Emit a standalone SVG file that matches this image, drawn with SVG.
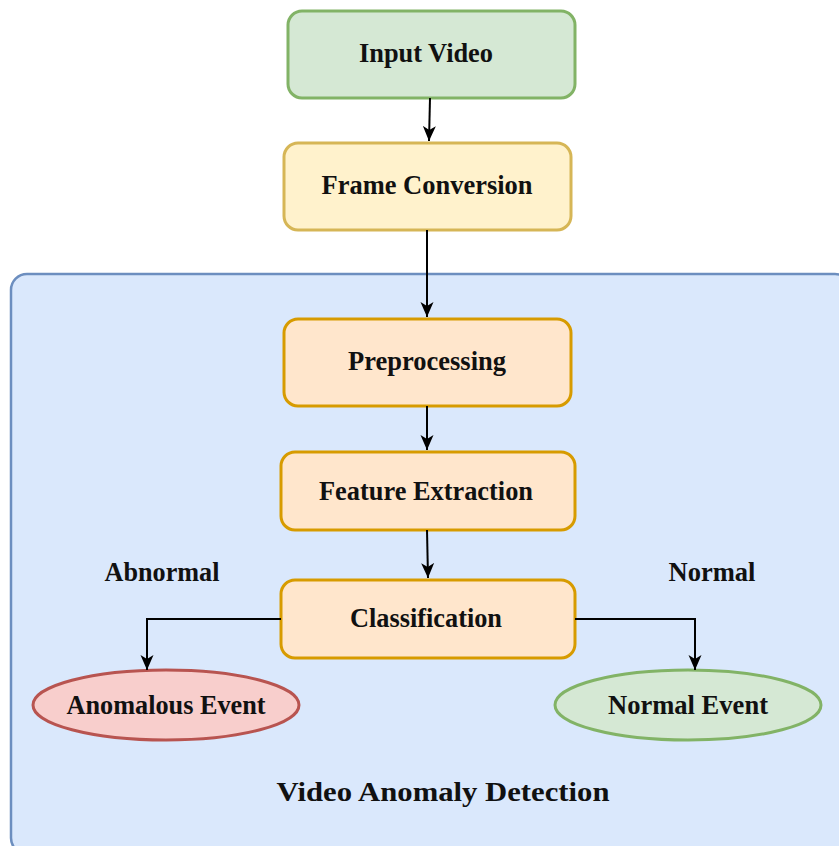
<svg xmlns="http://www.w3.org/2000/svg" width="839" height="846" viewBox="0 0 839 846">
<defs>
<marker id="ah" viewBox="0 0 16 16" refX="15" refY="8" markerWidth="16" markerHeight="16" markerUnits="userSpaceOnUse" orient="auto">
<path d="M0,1.5 L15,8 L0,14.5 L4,8 Z" fill="#000"/>
</marker>
<style>
text{font-family:"Liberation Serif","Times New Roman",serif;font-weight:bold;fill:#111;text-anchor:middle;font-size:28px}
.e{stroke:#000;stroke-width:2;fill:none;marker-end:url(#ah)}
.or{fill:#ffe6cc;stroke:#d79b00;stroke-width:3}
</style>
</defs>
<rect width="839" height="846" fill="#fff"/>
<g id="container">
<rect x="11" y="274" width="840" height="580" rx="16" fill="#dae8fc" stroke="#6c8ebf" stroke-width="2.5"/>
<text x="443" y="801" font-size="31" textLength="333" lengthAdjust="spacingAndGlyphs">Video Anomaly Detection</text>
</g>
<g id="input">
<rect x="288" y="11" width="287" height="87" rx="14" fill="#d5e8d4" stroke="#82b366" stroke-width="3"/>
<text x="426" y="62" textLength="134" lengthAdjust="spacingAndGlyphs">Input Video</text>
</g>
<g id="frame">
<rect x="284" y="143" width="287" height="87" rx="14" fill="#fff2cc" stroke="#d6b656" stroke-width="3"/>
<text x="427" y="194" textLength="211" lengthAdjust="spacingAndGlyphs">Frame Conversion</text>
</g>
<g id="prep">
<rect class="or" x="284" y="319" width="287" height="87" rx="14"/>
<text x="427" y="370" textLength="158" lengthAdjust="spacingAndGlyphs">Preprocessing</text>
</g>
<g id="feat">
<rect class="or" x="281" y="452" width="294" height="78" rx="14"/>
<text x="426" y="500" textLength="214" lengthAdjust="spacingAndGlyphs">Feature Extraction</text>
</g>
<g id="class">
<rect class="or" x="281" y="580" width="294" height="78" rx="14"/>
<text x="426" y="627" textLength="152" lengthAdjust="spacingAndGlyphs">Classification</text>
</g>
<g id="anom">
<ellipse cx="166" cy="705" rx="133" ry="35" fill="#f8cecc" stroke="#b85450" stroke-width="3"/>
<text x="166" y="714" textLength="199" lengthAdjust="spacingAndGlyphs">Anomalous Event</text>
</g>
<g id="norm">
<ellipse cx="688" cy="705" rx="133" ry="35" fill="#d5e8d4" stroke="#82b366" stroke-width="3"/>
<text x="688" y="714" textLength="160" lengthAdjust="spacingAndGlyphs">Normal Event</text>
</g>
<g id="labels">
<text x="162" y="581" textLength="115" lengthAdjust="spacingAndGlyphs">Abnormal</text>
<text x="712" y="581" textLength="87" lengthAdjust="spacingAndGlyphs">Normal</text>
</g>
<g id="connectors">
<path class="e" d="M430,98 L429,141"/>
<path class="e" d="M427,230 L427,317"/>
<path class="e" d="M427,406 L427,450"/>
<path class="e" d="M427,530 L428,578"/>
<path class="e" d="M281,619 L147,619 L147,670"/>
<path class="e" d="M575,619 L695,619 L695,670"/>
</g>
</svg>
